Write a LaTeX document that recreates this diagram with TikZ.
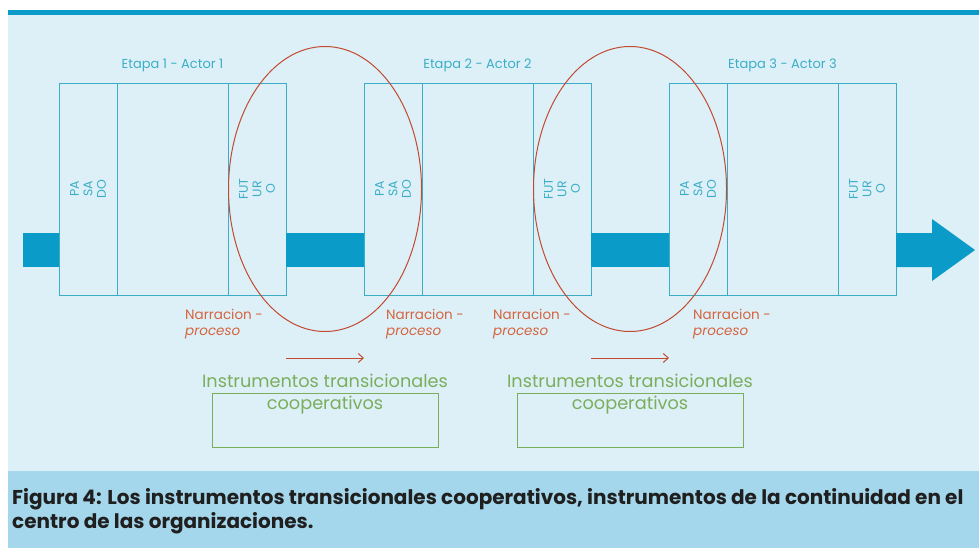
\documentclass[tikz,border=0pt]{standalone}
\usepackage{fontspec}
\setmainfont{Poppins}
\usetikzlibrary{shapes.geometric,positioning,calc,arrows.meta}
\definecolor{fondo}{HTML}{DDF0F8}
\definecolor{franja}{HTML}{A5D7EC}
\definecolor{azul}{HTML}{0A9BC9}
\definecolor{linea}{HTML}{3BAEC6}
\definecolor{rojo}{HTML}{C24A30}
\definecolor{narr}{HTML}{D5643F}
\definecolor{verde}{HTML}{7AAE5C}

\tikzset{
  col/.style={draw=linea,line width=0.9pt,minimum height=212pt,inner sep=0pt,outer sep=0pt},
  vert/.style={rotate=90,align=center,text=linea,font=\fontsize{12.5}{13.5}\selectfont},
  etapa/.style={text=linea,font=\fontsize{13}{15}\selectfont},
  narracion/.style={text=narr,align=left,anchor=north west,inner sep=0pt,font=\fontsize{13.5}{16}\selectfont},
  elipse/.style={ellipse,draw=rojo,line width=1pt,minimum width=193pt,minimum height=285pt,inner sep=0pt},
  flecha/.style={-{Straight Barb[length=5pt,width=9pt]},draw=rojo,line width=1pt},
  caja/.style={draw=verde,line width=1pt,minimum width=226pt,minimum height=54pt},
  instr/.style={text=verde,align=center,font=\fontsize{17.7}{22}\selectfont}
}

\begin{document}
\begin{tikzpicture}[x=1pt,y=-1pt]
    \useasboundingbox (0,0) rectangle (979,548);
    \fill[white] (0,0) rectangle (979,548);
    \fill[fondo] (8,15) rectangle (979,471);
    \fill[azul] (8,10) rectangle (979,15);
    \fill[franja] (8,471) rectangle (979,548);

    % etapas
    \foreach \i/\x in {1/59,2/364,3/669}{
        \node[col,minimum width=58pt,anchor=north west] (p\i) at (\x,83) {};
        \node[col,minimum width=111pt,right=0pt of p\i] (m\i) {};
        \node[col,minimum width=58pt,right=0pt of m\i] (f\i) {};
        \node[vert] at (p\i) {PA\\SA\\DO};
        \node[vert] at (f\i) {FUT\\UR\\O};
        \node[etapa] (t\i) at ($(m\i.north)+(0,-18)$) {Etapa \i\ - Actor \i};
    }

    % barras
    \coordinate (bt) at (0,233);
    \coordinate (bb) at (0,267);
    \coordinate (ini) at (23,233);
    \fill[azul] (ini) rectangle (p1.west |- bb);
    \fill[azul] (f1.east |- bt) rectangle (p2.west |- bb);
    \fill[azul] (f2.east |- bt) rectangle (p3.west |- bb);
    \coordinate (fin) at (975,250);
    \fill[azul] (f3.east |- bt) -- (932,233) -- (932,219) -- (fin) -- (932,281) -- (932,267) -- (f3.east |- bb) -- cycle;

    % elipses
    \node[elipse] (e1) at ($(f1.west)!0.5!(p2.east)$) {};
    \node[elipse] (e2) at ($(f2.west)!0.5!(p3.east)$) {};

    \node[narracion] (n1) at (185,309) {Narracion -\\\textit{proceso}};
    \node[narracion] (n2) at (386,309) {Narracion -\\\textit{proceso}};
    \node[narracion] (n3) at (493,309) {Narracion -\\\textit{proceso}};
    \node[narracion] (n4) at (693,309) {Narracion -\\\textit{proceso}};

    \coordinate (ay) at (0,358);
    \draw[flecha] (f1.east |- ay) -- (p2.west |- ay);
    \draw[flecha] (f2.east |- ay) -- (p3.west |- ay);

    % instrumentos
    \node[caja] (c1) at (325,420) {};
    \node[caja] (c2) at (630,420) {};
    \node[instr] (i1) at (325,394) {Instrumentos transicionales\\cooperativos};
    \node[instr] (i2) at (630,394) {Instrumentos transicionales\\cooperativos};

    \node[anchor=north west,align=left,inner sep=0pt,text=black!88,font=\bfseries\fontsize{20}{24}\selectfont] (cap) at (12,488)
        {Figura 4: Los instrumentos transicionales cooperativos, instrumentos de la continuidad en el\\centro de las organizaciones.};
\end{tikzpicture}
\end{document}
